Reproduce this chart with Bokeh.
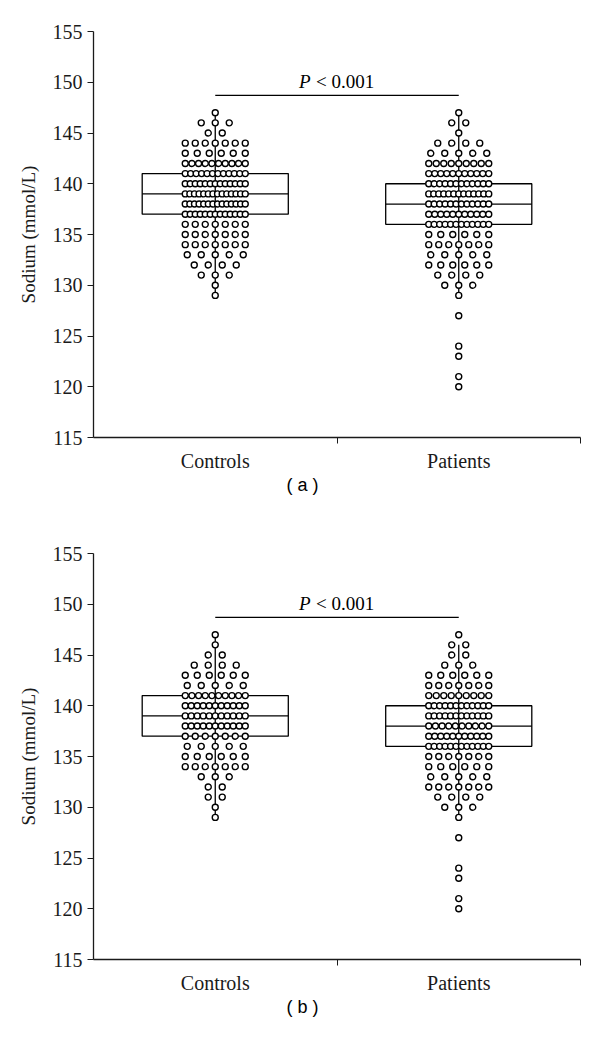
from bokeh.plotting import figure
from bokeh.models import FixedTicker, Range1d
from bokeh.layouts import column
from bokeh.embed import file_html
from bokeh.resources import INLINE
from bokeh.core.properties import value

groups = ["Controls", "Patients"]
group_centers = [0.5, 1.5]
sodium_levels = list(range(120, 148))  # 120 .. 147 mmol/L

# number of subjects at each sodium level (aligned with sodium_levels)
ctrl_a = [0, 0, 0, 0, 0, 0, 0, 0, 0, 1, 1, 3, 4, 5, 7, 7, 7, 13, 14, 14, 13, 12, 10, 6, 7, 2, 3, 1]
pat_a = [1, 1, 0, 1, 1, 0, 0, 1, 0, 1, 3, 4, 6, 5, 7, 6, 12, 11, 12, 13, 12, 11, 9, 5, 4, 1, 2, 1]
ctrl_b = [0, 0, 0, 0, 0, 0, 0, 0, 0, 1, 1, 2, 2, 3, 7, 6, 5, 7, 11, 11, 11, 10, 5, 6, 4, 2, 1, 1]
pat_b = [1, 1, 0, 1, 1, 0, 0, 1, 0, 1, 3, 4, 7, 5, 6, 7, 12, 11, 10, 12, 12, 9, 7, 6, 3, 2, 2, 1]

# box statistics: [Controls, Patients]
q1 = [137, 136]
median = [139, 138]
q3 = [141, 140]
whisk_lo_a = [129, 129]
whisk_hi_a = [147, 147]
whisk_lo_b = [129, 129]
whisk_hi_b = [147, 146]
p_text = "P"
p_rest = "< 0.001"
bracket_level = 148.7

FRAME_W = 487
FRAME_H = 406
PX_PER_UNIT = FRAME_W / 2.0
SERIF = "Liberation Serif"
INK = "#1a1a1a"


def dot_positions(center, counts):
    xs, ys = [], []
    for lvl, n in zip(sodium_levels, counts):
        if n <= 0:
            continue
        if n == 1:
            step = 0
        else:
            step = max(4.6, min(14.0, 60.0 / (n - 1)))
        for k in range(n):
            off_px = (k - (n - 1) / 2.0) * step
            xs.append(center + off_px / PX_PER_UNIT)
            ys.append(lvl)
    return xs, ys


def make_panel(counts_c, counts_p, wlo, whi, tag, top_border, bottom_border):
    p = figure(frame_width=FRAME_W, frame_height=FRAME_H,
               x_range=Range1d(0, 2), y_range=Range1d(115, 155),
               output_backend="svg", toolbar_location=None,
               min_border_left=93, min_border_right=10,
               min_border_top=top_border, min_border_bottom=bottom_border,
               title=tag, title_location="below")
    p.outline_line_color = None
    p.xgrid.visible = False
    p.ygrid.visible = False
    p.background_fill_color = "white"
    p.border_fill_color = "white"

    half = 0.30
    for i, c in enumerate(group_centers):
        p.segment(x0=[c], y0=[wlo[i]], x1=[c], y1=[whi[i]], line_color="black", line_width=1.3)
        p.quad(left=[c - half], right=[c + half], bottom=[q1[i]], top=[q3[i]],
               fill_color=None, line_color="black", line_width=1.3)
        p.segment(x0=[c - half], y0=[median[i]], x1=[c + half], y1=[median[i]],
                  line_color="black", line_width=1.3)

    for c, counts in zip(group_centers, [counts_c, counts_p]):
        xs, ys = dot_positions(c, counts)
        p.scatter(xs, ys, marker="circle", size=6.0, fill_color="white",
                  line_color="black", line_width=1.4)

    # significance bracket
    p.segment(x0=[group_centers[0]], y0=[bracket_level], x1=[group_centers[1]], y1=[bracket_level],
              line_color="black", line_width=1.2)
    mid = (group_centers[0] + group_centers[1]) / 2.0
    p.text(x=[mid], y=[bracket_level], text=[p_text], text_font=value(SERIF),
           text_font_style="italic", text_font_size="19px", text_align="left",
           text_baseline="bottom", x_offset=-38, y_offset=-3, text_color="black")
    p.text(x=[mid], y=[bracket_level], text=[p_rest], text_font=value(SERIF),
           text_font_style="normal", text_font_size="19px", text_align="left",
           text_baseline="bottom", x_offset=-21, y_offset=-3, text_color="black")

    # y axis
    yax = p.yaxis[0]
    yax.ticker = FixedTicker(ticks=list(range(115, 156, 5)))
    yax.major_tick_out = 6
    yax.major_tick_in = 0
    yax.minor_tick_line_color = None
    yax.axis_line_color = INK
    yax.major_tick_line_color = INK
    yax.axis_line_width = 1.3
    yax.major_label_text_font = SERIF
    yax.major_label_text_font_size = "20px"
    yax.major_label_text_color = INK
    yax.major_label_standoff = 5
    yax.axis_label = "Sodium (mmol/L)"
    yax.axis_label_text_font = SERIF
    yax.axis_label_text_font_style = "normal"
    yax.axis_label_text_font_size = "19px"
    yax.axis_label_text_color = INK
    yax.axis_label_standoff = 11

    # x axis: labels at category centres, ticks at category boundaries
    xax = p.xaxis[0]
    xax.ticker = FixedTicker(ticks=group_centers, minor_ticks=[1.0, 2.0])
    xax.major_label_overrides = {group_centers[0]: groups[0], group_centers[1]: groups[1]}
    xax.major_tick_line_color = None
    xax.minor_tick_line_color = INK
    xax.minor_tick_out = 6
    xax.minor_tick_in = 0
    xax.axis_line_color = INK
    xax.axis_line_width = 1.3
    xax.major_label_text_font = SERIF
    xax.major_label_text_font_size = "20px"
    xax.major_label_text_color = INK
    xax.major_label_standoff = 6

    p.title.align = "left"
    p.title.offset = 193
    p.title.text_font = "Liberation Sans"
    p.title.text_font_style = "normal"
    p.title.text_font_size = "18px"
    p.title.text_color = "black"
    p.title.standoff = 0
    p.title.vertical_align = "top"
    return p


pa = make_panel(ctrl_a, pat_a, whisk_lo_a, whisk_hi_a, "( a )", 31, 83)
pb = make_panel(ctrl_b, pat_b, whisk_lo_b, whisk_hi_b, "( b )", 33, 81)

layout = column(pa, pb, spacing=0)
open("out.html", "w").write(file_html(layout, INLINE))
